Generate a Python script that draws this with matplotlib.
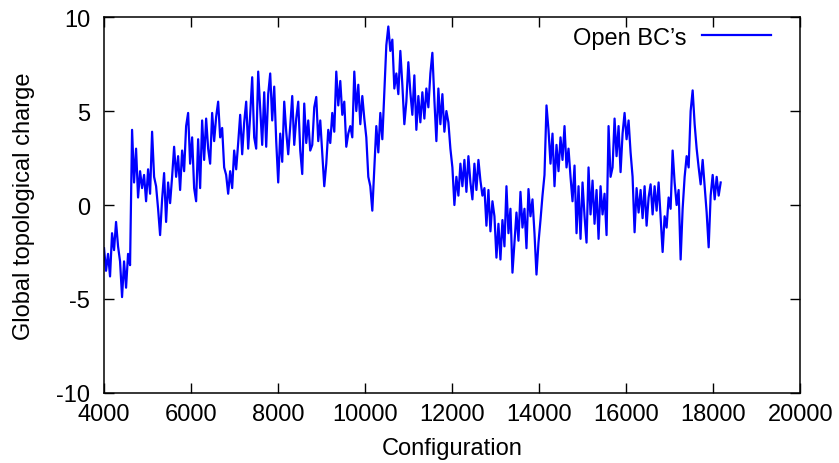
import numpy as np
import matplotlib
matplotlib.use("Agg")
import matplotlib.pyplot as plt

# topological charge, one value per ~46 configurations
q = [
    -2.3, -3.5, -2.6, -3.8, -1.5, -2.4, -0.9, -2.2, -3.0, -4.9,
    -3.0, -4.4, -2.6, -3.2, 4.0, 1.2, 3.0, 0.4, 1.8, 0.9,
    1.6, 0.2, 1.9, 0.6, 3.9, 1.5, 1.0, -0.2, -1.6, 0.3,
    1.7, -0.9, 1.2, 0.1, 1.5, 3.1, 1.5, 2.6, 0.8, 2.9,
    1.8, 4.2, 4.9, 2.2, 3.6, 0.9, 0.2, 3.5, 0.9, 4.5,
    2.4, 4.6, 3.0, 2.2, 4.9, 3.4, 4.7, 5.5, 3.6, 4.1,
    2.0, 1.6, 0.6, 1.8, 0.9, 2.9, 1.9, 3.3, 4.8, 2.7,
    4.4, 5.5, 3.0, 4.8, 6.8, 3.6, 3.0, 7.1, 5.2, 3.2,
    6.0, 3.1, 5.9, 7.0, 4.5, 6.3, 3.4, 1.2, 3.8, 2.3,
    5.5, 3.9, 2.7, 4.2, 5.8, 3.2, 4.6, 5.5, 2.9, 1.65,
    5.4, 3.3, 4.5, 2.9, 3.2, 5.2, 5.75, 3.4, 4.5, 2.7,
    1.0, 2.2, 4.0, 3.3, 4.9, 3.9, 7.1, 5.3, 6.6, 4.8,
    5.5, 3.1, 3.8, 4.2, 3.6, 7.1, 5.0, 6.4, 4.3, 5.8,
    4.6, 3.6, 1.5, 1.0, -0.3, 2.0, 4.2, 2.8, 4.9, 3.5,
    6.0, 8.5, 9.5, 8.2, 8.8, 6.2, 7.0, 5.9, 8.2, 6.4,
    4.3, 5.5, 7.6, 6.0, 4.8, 6.9, 4.0, 5.8, 4.4, 6.0,
    4.6, 6.2, 5.2, 7.0, 8.1, 5.6, 3.4, 6.2, 4.3, 5.9,
    3.9, 5.0, 4.4, 3.0, 2.0, 0.0, 1.5, 0.5, 2.2, 1.0,
    2.4, 0.7, 2.6, 1.2, 0.3, 2.2, 0.8, 2.4, 1.3, 0.5,
    0.9, -1.1, 0.8, -1.4, 0.2, -0.6, -2.8, -1.0, -2.9, -0.8,
    -2.2, 1.0, -1.5, -0.2, -3.6, -2.0, -0.4, -1.9, 0.7, -1.2,
    -0.2, -2.3, 0.85, -0.6, 0.3, -1.5, -3.7, -2.0, -0.8, 0.5,
    1.6, 5.3, 4.0, 2.2, 3.8, 1.0, 3.2, 1.8, 3.6, 2.4,
    4.2, 2.0, 3.0, 1.5, 0.2, 2.1, -1.5, 1.0, -1.8, 1.2,
    -0.6, -2.0, 2.0, -0.5, 1.3, -1.0, 0.8, -1.8, 1.0, -0.5,
    0.6, -1.6, 4.2, 1.5, 2.0, 4.6, 2.6, 4.2, 1.75, 3.8,
    4.9, 3.5, 4.5, 2.8, 1.5, -1.45, 0.9, -0.4, 0.8, -0.7,
    1.0, -1.1, 0.4, 1.1, -0.5, 1.0, -0.3, 1.2, -0.7, -2.5,
    -0.6, -1.2, 0.4, -0.2, 2.9, 1.2, 0.0, 0.8, -2.9, -0.2,
    1.5, 2.6, 2.0, 5.0, 6.1, 4.3, 3.0, 2.0, 1.1, 2.4,
    1.0, -0.4, -2.25, 0.5, 1.6, 0.3, 1.5, 0.5, 1.2,
]
config = 4000 + 46 * np.arange(len(q))

xticks = [4000, 6000, 8000, 10000, 12000, 14000, 16000, 18000, 20000]
yticks = [-10, -5, 0, 5, 10]

plt.rcParams['font.family'] = ['Liberation Sans', 'DejaVu Sans']
plt.rcParams['font.size'] = 17
plt.rcParams['axes.unicode_minus'] = False

fig = plt.figure(figsize=(8.39, 4.64), dpi=100)
ax = fig.add_axes([0.124, 0.151, 0.830, 0.810])

ax.plot(config, q, color='#0000ff', lw=1.6, label="Open BC\u2019s")

ax.set_xlim(4000, 20000)
ax.set_ylim(-10, 10)
ax.set_xticks(xticks)
ax.set_yticks(yticks)
ax.tick_params(direction='in', length=7, width=1, top=True, right=True)
ax.tick_params(axis='x', pad=7)
ax.tick_params(axis='y', pad=10)
for s in ax.spines.values():
    s.set_linewidth(1.1)

ax.set_xlabel('Configuration', labelpad=9)
ax.set_ylabel('Global topological charge', labelpad=15)

ax.legend(loc='upper right', bbox_to_anchor=(0.971, 1.0), frameon=False,
          markerfirst=False, handlelength=2.9, handletextpad=0.68,
          borderaxespad=0)

fig.savefig('out.png', dpi=100)
